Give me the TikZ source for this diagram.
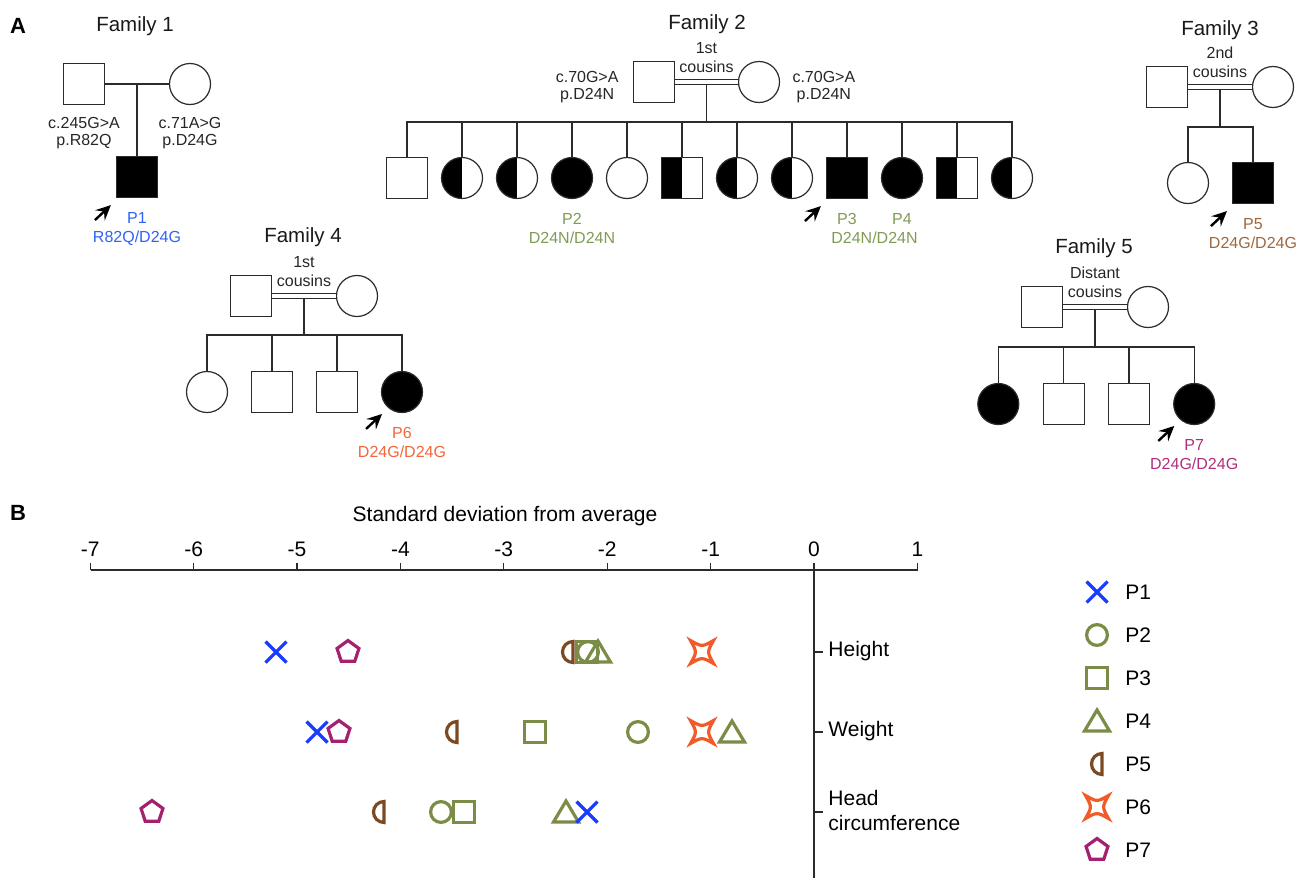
\documentclass[tikz,border=0pt]{standalone}
\usepackage{fontspec}
\setmainfont{Liberation Sans}
\usetikzlibrary{arrows.meta,calc,positioning}
\definecolor{pedline}{HTML}{2B2B2B}
\definecolor{pone}{HTML}{1A3CFF}
\definecolor{polive}{HTML}{7A8C46}
\definecolor{pbrown}{HTML}{7B4A22}
\definecolor{porange}{HTML}{F15A29}
\definecolor{pmagenta}{HTML}{A3216E}
\definecolor{tblue}{HTML}{2F62F5}
\definecolor{tolive}{HTML}{7F9C55}
\definecolor{tbrown}{HTML}{9C6840}
\definecolor{torange}{HTML}{F2663A}
\definecolor{tmagenta}{HTML}{B02F7C}

\begin{document}
\begin{tikzpicture}[x=0.5pt,y=-0.5pt,
  ped/.style={draw=pedline,line width=0.6pt,fill=white,minimum size=20.5pt,inner sep=0pt},
  male/.style={ped,rectangle},
  female/.style={ped,circle},
  maleaff/.style={male,fill=black},
  femaleaff/.style={female,fill=black},
  halffill/.style={path picture={\fill[black] (path picture bounding box.south west) rectangle (path picture bounding box.north);}},
  malecar/.style={male,halffill},
  femalecar/.style={female,halffill},
  kinline/.style={draw=pedline,line width=0.6pt},
  mate/.style={kinline,double=white,double distance=2pt},
  famtitle/.style={font=\fontsize{10.25}{12}\selectfont,text=black!90},
  lab/.style={font=\fontsize{8}{9.5}\selectfont,align=center,text=black!85,inner sep=0pt},
  gt/.style={lab,font=\fontsize{8}{8.5}\selectfont},
  kin/.style={lab,midway,above=4.5pt},
  proband/.style={line width=1.2pt,-{Stealth[length=7.5pt,width=7pt,inset=2.8pt]}},
  panel/.style={font=\bfseries\fontsize{11}{13}\selectfont},
  axlab/.style={font=\fontsize{10.5}{12.5}\selectfont,inner sep=0pt},
  mk/.style={line width=1.6pt,line join=miter},
  crossmk/.pic={\draw[mk,pone] (-10.5,-10.5) -- (10.5,10.5) (-10.5,10.5) -- (10.5,-10.5);},
  circmk/.pic={\draw[mk,polive] (0,0) circle[radius=5.2pt];},
  squaremk/.pic={\draw[mk,polive] (-10.5,-10.5) rectangle (10.5,10.5);},
  trimk/.pic={\draw[mk,polive] (0,-11) -- (12.5,10) -- (-12.5,10) -- cycle;},
  halfmk/.pic={\draw[mk,pbrown] (5,10.5) arc[start angle=270,end angle=90,radius=5.25pt] -- cycle;},
  starmk/.pic={\draw[mk,porange] (-11.5,-11.5) .. controls (0,-5) .. (11.5,-11.5)
    .. controls (5,0) .. (11.5,11.5) .. controls (0,5) .. (-11.5,11.5)
    .. controls (-5,0) .. (-11.5,-11.5) -- cycle;},
  pentmk/.pic={\draw[mk,pmagenta] (-90:11.5) -- (-18:11.5) -- (54:11.5) -- (126:11.5) -- (198:11.5) -- cycle;}]
  \useasboundingbox (0,0) rectangle (1300,878);

  % panel A
  \node[panel] (labA) at (18,26) {A};

  % family 1
  \node[famtitle] (f1title) at (135,26) {Family 1};
  \node[male] (f1dad) at (84,84) {};
  \node[female] (f1mom) at (190,84) {};
  \node[maleaff] (f1kid) at (137,177) {};
  \draw[kinline] (f1dad) -- (f1mom);
  \coordinate (f1m) at ($(f1dad)!.5!(f1mom)$);
  \draw[kinline] (f1m) -- (f1kid);
  \node[gt,below=6pt of f1dad] (f1dadgt) {c.245G>A\\p.R82Q};
  \node[gt,below=6pt of f1mom] (f1momgt) {c.71A>G\\p.D24G};
  \node[lab,text=tblue,below=7pt of f1kid] (f1p) {P1\\R82Q/D24G};
  \draw[proband] ([shift={(-21,22)}]f1kid.south west) -- ([shift={(-5,7)}]f1kid.south west);

  % family 2
  \node[famtitle] (f2title) at (707,24) {Family 2};
  \node[male] (f2dad) at (654,82) {};
  \node[female] (f2mom) at (759,82) {};
  \draw[mate] (f2dad) -- node[kin] (f2kin) {1st\\cousins} (f2mom);
  \node[gt,left=7pt of f2dad,yshift=-2.5pt] (f2dadgt) {c.70G>A\\p.D24N};
  \node[gt,right=6pt of f2mom,yshift=-2.5pt] (f2momgt) {c.70G>A\\p.D24N};
  \coordinate (f2m) at ($(f2dad)!.5!(f2mom)$);
  \coordinate (f2j) at ($(f2m)+(0,40)$);
  \draw[kinline] ([yshift=-1.3pt]f2m) -- (f2j);
  \foreach \s [count=\k from 0] in {male,femalecar,femalecar,femaleaff,female,malecar,
      femalecar,femalecar,maleaff,femaleaff,malecar,femalecar}
    \node[\s] (f2c\k) at (407+55*\k,178) {};
  \foreach \k in {0,...,11}
    \draw[kinline] (f2j) -| (f2c\k);
  \node[lab,text=tolive,below=7pt of f2c3] (f2p2) {P2\\D24N/D24N};
  \node[lab,text=tolive,below=7pt of f2c8] (f2p3) {P3};
  \node[lab,text=tolive,below=7pt of f2c9] (f2p4) {P4};
  \node[lab,text=tolive] (f2p34) at ($(f2p3)!.5!(f2p4)+(0,19)$) {D24N/D24N};
  \draw[proband] ([shift={(-21,22)}]f2c8.south west) -- ([shift={(-5,7)}]f2c8.south west);

  % family 3
  \node[famtitle] (f3title) at (1220,30) {Family 3};
  \node[male] (f3dad) at (1167,87) {};
  \node[female] (f3mom) at (1273,87) {};
  \draw[mate] (f3dad) -- node[kin] (f3kin) {2nd\\cousins} (f3mom);
  \coordinate (f3m) at ($(f3dad)!.5!(f3mom)$);
  \coordinate (f3j) at ($(f3m)+(0,40)$);
  \draw[kinline] ([yshift=-1.3pt]f3m) -- (f3j);
  \node[female] (f3c1) at (1188,183) {};
  \node[maleaff] (f3c2) at (1253,183) {};
  \draw[kinline] (f3j) -| (f3c1);
  \draw[kinline] (f3j) -| (f3c2);
  \node[lab,text=tbrown,below=7pt of f3c2] (f3p) {P5\\D24G/D24G};
  \draw[proband] ([shift={(-21,22)}]f3c2.south west) -- ([shift={(-5,7)}]f3c2.south west);

  % family 4
  \node[famtitle] (f4title) at (303,237) {Family 4};
  \node[male] (f4dad) at (251,296) {};
  \node[female] (f4mom) at (357,296) {};
  \draw[mate] (f4dad) -- node[kin] (f4kin) {1st\\cousins} (f4mom);
  \coordinate (f4m) at ($(f4dad)!.5!(f4mom)$);
  \coordinate (f4j) at ($(f4m)+(0,39)$);
  \draw[kinline] ([yshift=-1.3pt]f4m) -- (f4j);
  \foreach \s [count=\k] in {female,male,male,femaleaff}
    \node[\s] (f4c\k) at (142+65*\k,392) {};
  \foreach \k in {1,...,4}
    \draw[kinline] (f4j) -| (f4c\k);
  \node[lab,text=torange,below=7pt of f4c4] (f4p) {P6\\D24G/D24G};
  \draw[proband] ([shift={(-21,22)}]f4c4.south west) -- ([shift={(-5,7)}]f4c4.south west);

  % family 5
  \node[famtitle] (f5title) at (1094,248) {Family 5};
  \node[male] (f5dad) at (1042,307) {};
  \node[female] (f5mom) at (1148,307) {};
  \draw[mate] (f5dad) -- node[kin] (f5kin) {Distant\\cousins} (f5mom);
  \coordinate (f5m) at ($(f5dad)!.5!(f5mom)$);
  \coordinate (f5j) at ($(f5m)+(0,40)$);
  \draw[kinline] ([yshift=-1.3pt]f5m) -- (f5j);
  \foreach \s [count=\k] in {femaleaff,male,male,femaleaff}
    \node[\s] (f5c\k) at (933+65.3*\k,404) {};
  \foreach \k in {1,...,4}
    \draw[kinline] (f5j) -| (f5c\k);
  \node[lab,text=tmagenta,below=7pt of f5c4] (f5p) {P7\\D24G/D24G};
  \draw[proband] ([shift={(-21,22)}]f5c4.south west) -- ([shift={(-5,7)}]f5c4.south west);

  % panel B
  \node[panel] (labB) at (18,513) {B};
  \node[axlab] (sdtitle) at (505,516) {Standard deviation from average};
  \coordinate (axL) at (91,570);
  \coordinate (axR) at (918,570);
  \draw[pedline,line width=0.6pt] (axL) -- (axR);
  \foreach \v in {-7,...,1} {
    \draw[pedline,line width=0.6pt] (814+103.4*\v,570) -- ++(0,-7);
    \node[axlab] (tk\v) at (814+103.4*\v,549) {\v};
  }
  \coordinate (zTop) at (814,570);
  \coordinate (zBot) at (814,878);
  \draw[pedline,line width=1.2pt] (zTop) -- (zBot);
  \foreach \y in {652,732,812}
    \draw[pedline,line width=0.6pt] (814,\y) -- (823,\y);
  \node[axlab,anchor=west] (lheight) at (828,651) {Height};
  \node[axlab,anchor=west] (lweight) at (828,731) {Weight};
  \node[axlab,anchor=west,align=left] (lhead) at (828,810) {Head\\circumference};

  % data points
  \foreach \x/\y in {348/652,339/732,152/812} \pic at (\x,\y) {pentmk};
  \foreach \x/\y in {568/652,452/732,379/812} \pic at (\x,\y) {halfmk};
  \foreach \x/\y in {587/652,535/732,464/812} \pic at (\x,\y) {squaremk};
  \foreach \x/\y in {588/652,638/732,441/812} \pic at (\x,\y) {circmk};
  \foreach \x/\y in {598/652,732/732,566/812} \pic at (\x,\y) {trimk};
  \foreach \x/\y in {702/652,702/732} \pic at (\x,\y) {starmk};
  \foreach \x/\y in {276/652,317/732,587/812} \pic at (\x,\y) {crossmk};

  % legend
  \pic at (1097,592) {crossmk};
  \pic at (1097,635) {circmk};
  \pic at (1097,678) {squaremk};
  \pic at (1097,721) {trimk};
  \pic at (1097,764) {halfmk};
  \pic at (1097,807) {starmk};
  \pic at (1097,850) {pentmk};
  \foreach \k in {1,...,7}
    \node[axlab,anchor=west] (leg\k) at (1125,549+43*\k) {P\k};
\end{tikzpicture}
\end{document}
